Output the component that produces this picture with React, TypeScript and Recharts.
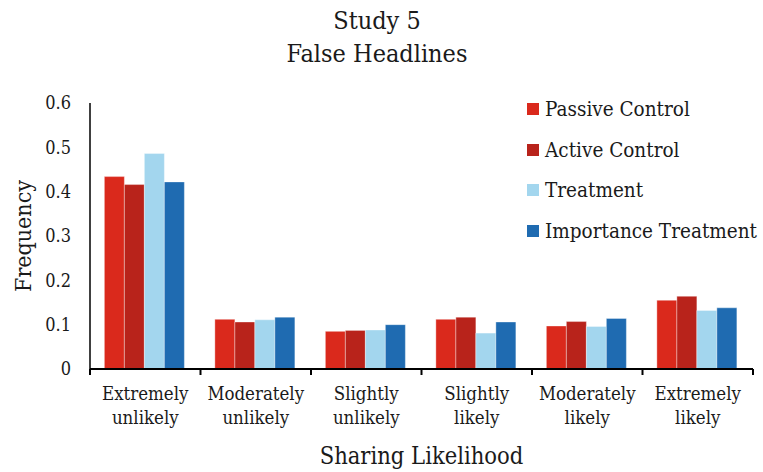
import { BarChart, Bar, XAxis, YAxis, Legend, Label } from 'recharts';

// Sharing likelihood categories (x axis)
const categories = [
  'Extremely unlikely',
  'Moderately unlikely',
  'Slightly unlikely',
  'Slightly likely',
  'Moderately likely',
  'Extremely likely',
];

// Frequency per condition
const passiveControl = [0.434, 0.112, 0.085, 0.112, 0.097, 0.155];
const activeControl = [0.416, 0.106, 0.087, 0.117, 0.107, 0.164];
const treatment = [0.486, 0.111, 0.088, 0.081, 0.096, 0.132];
const importanceTreatment = [0.422, 0.117, 0.1, 0.106, 0.114, 0.138];

const yTicks = [0, 0.1, 0.2, 0.3, 0.4, 0.5, 0.6];

const data = categories.map((name, i) => ({
  name,
  passive: passiveControl[i],
  active: activeControl[i],
  treatment: treatment[i],
  importance: importanceTreatment[i],
}));

const FONT = '"DejaVu Serif Condensed", "DejaVu Serif", serif';
const INK = '#1a1a1a';

const series = [
  { key: 'passive', name: 'Passive Control', color: '#da291c' },
  { key: 'active', name: 'Active Control', color: '#b8231b' },
  { key: 'treatment', name: 'Treatment', color: '#a3d6ee' },
  { key: 'importance', name: 'Importance Treatment', color: '#1f6bb1' },
];

// two-line category label, plus tick marks on the band edges
function CategoryTick({ x, y, payload, index, visibleTicksCount }: any) {
  const text = String(payload.value);
  const cut = text.indexOf(' ');
  const half = payload.offset || 0;
  const top = y - 8;
  return (
    <g>
      <line x1={x - half} x2={x - half} y1={top} y2={top + 6} stroke="#000" strokeWidth={2} />
      {index === visibleTicksCount - 1 && (
        <line x1={x + half} x2={x + half} y1={top} y2={top + 6} stroke="#000" strokeWidth={2} />
      )}
      <text x={x} y={y} textAnchor="middle" fontFamily={FONT} fontSize={18.5} fill={INK} style={{ fontStretch: 'condensed' }}>
        <tspan x={x} dy={23}>{text.slice(0, cut)}</tspan>
        <tspan x={x} dy={24}>{text.slice(cut + 1)}</tspan>
      </text>
    </g>
  );
}

function LegendBox({ payload }: any) {
  const items = [...(payload || [])].sort(
    (a: any, b: any) => series.findIndex((s) => s.name === a.value) - series.findIndex((s) => s.name === b.value)
  );
  return (
    <div style={{ fontFamily: FONT, fontStretch: 'condensed', fontSize: 20.5, color: INK }}>
      {items.map((p: any) => (
        <div key={p.value} style={{ display: 'flex', alignItems: 'center', height: 40.5, whiteSpace: 'nowrap' }}>
          <span style={{ width: 12, height: 12, background: p.color, marginRight: 6, display: 'inline-block' }} />
          <span style={{ lineHeight: '40px' }}>{p.value}</span>
        </div>
      ))}
    </div>
  );
}

export default function App() {
  return (
    <div style={{ position: 'absolute', left: 0, top: 0, width: 763, height: 472, background: '#fff' }}>
      <div
        style={{
          position: 'absolute',
          top: 4,
          left: 0,
          width: 754,
          textAlign: 'center',
          fontFamily: FONT,
          fontStretch: 'condensed',
          fontSize: 25,
          lineHeight: '33px',
          color: INK,
        }}
      >
        <div>Study 5</div>
        <div>False Headlines</div>
      </div>
      <BarChart
        width={763}
        height={472}
        data={data}
        margin={{ top: 103, right: 10, bottom: 0, left: 0 }}
        barCategoryGap="13%"
        barGap={0}
      >
        <XAxis
          dataKey="name"
          height={103}
          interval={0}
          tickLine={false}
          axisLine={{ stroke: '#000', strokeWidth: 2 }}
          tick={<CategoryTick />}
        >
          <Label
            value="Sharing Likelihood"
            position="center"
            dy={35}
            style={{ fontFamily: FONT, fontStretch: 'condensed', fontSize: 23.5, fill: INK }}
          />
        </XAxis>
        <YAxis
          width={90}
          domain={[0, 0.6]}
          ticks={yTicks}
          tickLine={false}
          tickSize={0}
          tickMargin={19}
          axisLine={{ stroke: '#000', strokeWidth: 1.5 }}
          tick={{ fontFamily: FONT, fontSize: 18, fill: INK, style: { fontStretch: 'condensed' } }}
        >
          <Label
            value="Frequency"
            angle={-90}
            position="center"
            dx={-22}
            style={{ fontFamily: FONT, fontStretch: 'condensed', fontSize: 23, fill: INK }}
          />
        </YAxis>
        <Legend
          layout="vertical"
          align="center"
          verticalAlign="middle"
          content={<LegendBox />}
          wrapperStyle={{ left: 527, top: 89, width: 236 }}
        />
        {series.map((s) => (
          <Bar
            key={s.key}
            dataKey={s.key}
            name={s.name}
            fill={s.color}
            stroke="rgba(255,255,255,0.35)"
            strokeWidth={1}
            isAnimationActive={false}
          />
        ))}
      </BarChart>
    </div>
  );
}
